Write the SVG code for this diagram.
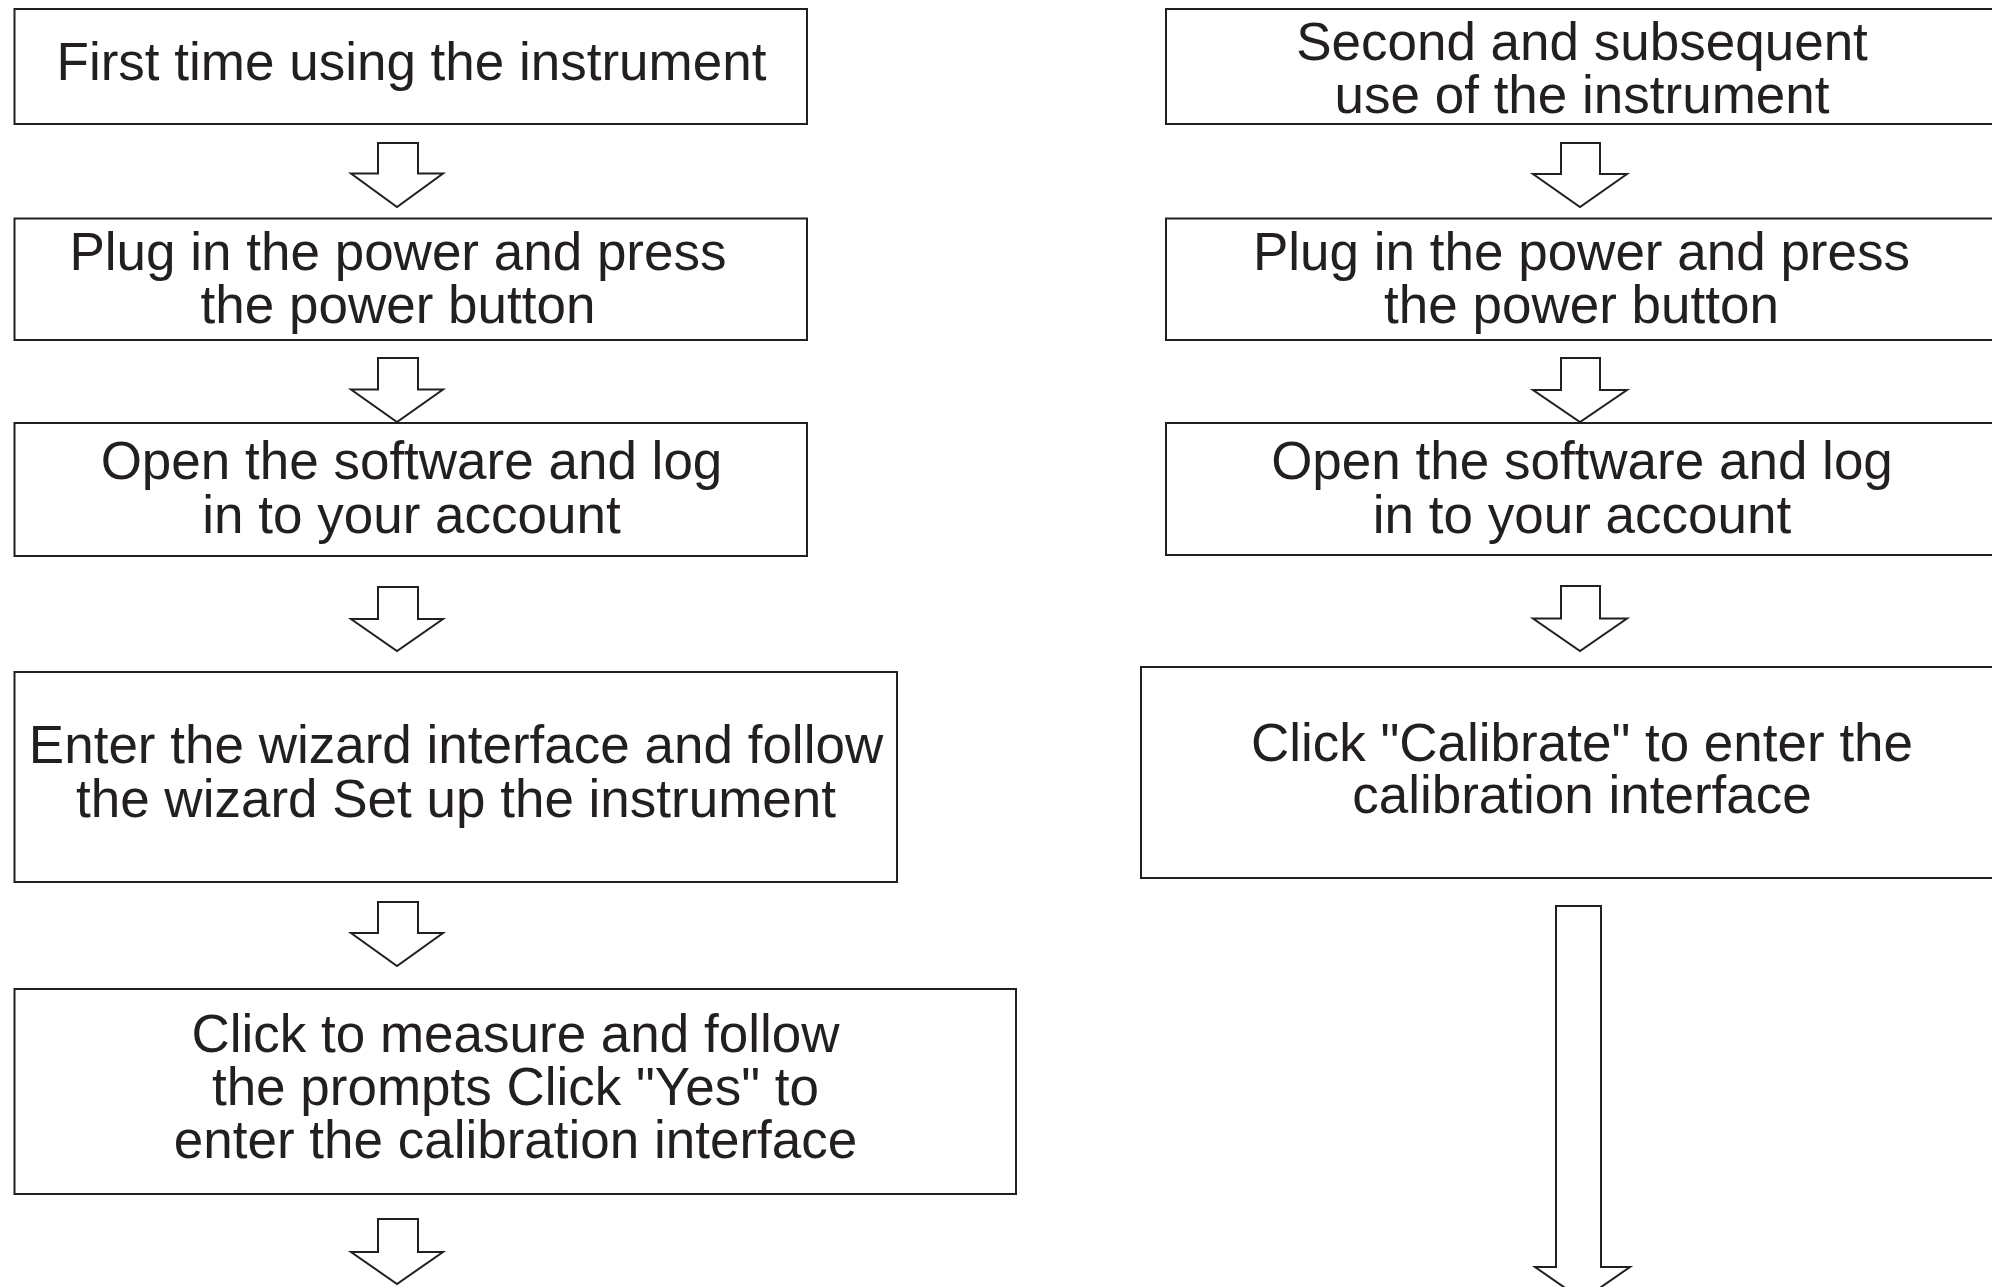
<svg xmlns="http://www.w3.org/2000/svg" width="1992" height="1287" viewBox="0 0 1992 1287">
<style>
.box{fill:#ffffff;stroke:#231f20;stroke-width:2}
.arr{fill:#ffffff;stroke:#231f20;stroke-width:2;stroke-linejoin:miter}
.t{font-family:"Liberation Sans",Arial,sans-serif;font-size:53px;fill:#231f20;text-anchor:middle}
</style>
<rect x="0" y="0" width="1992" height="1287" fill="#ffffff"/>
<g id="connectors">
<polygon class="arr" points="378,143 418,143 418,173.5 443,173.5 397,207 351,173.5 378,173.5"/>
<polygon class="arr" points="378,358 418,358 418,389.5 443,389.5 397,422 351,389.5 378,389.5"/>
<polygon class="arr" points="378,587 418,587 418,619 443,619 397,651 351,619 378,619"/>
<polygon class="arr" points="378,902 418,902 418,933 443,933 397,966 351,933 378,933"/>
<polygon class="arr" points="378,1219 418,1219 418,1252 443,1252 397,1284 351,1252 378,1252"/>
<polygon class="arr" points="1561,143 1600,143 1600,174 1627,174 1580,207 1533,174 1561,174"/>
<polygon class="arr" points="1561,358 1600,358 1600,390 1627,390 1580,422 1533,390 1561,390"/>
<polygon class="arr" points="1561,586 1600,586 1600,618.5 1627,618.5 1580,651 1533,618.5 1561,618.5"/>
<polygon class="arr" points="1556,906 1601,906 1601,1267 1630,1267 1582.5,1300 1535,1267 1556,1267"/>
</g>
<g id="n1">
<rect class="box" x="14.5" y="9" width="792.5" height="115"/>
<text class="t" x="411.5" y="80">First time using the instrument</text>
</g>
<g id="n2">
<rect class="box" x="14.5" y="218.5" width="792.5" height="121.5"/>
<text class="t" x="398" y="270">Plug in the power and press</text>
<text class="t" x="398" y="323">the power button</text>
</g>
<g id="n3">
<rect class="box" x="14.5" y="423" width="792.5" height="133"/>
<text class="t" x="411.5" y="479">Open the software and log</text>
<text class="t" x="411.5" y="533">in to your account</text>
</g>
<g id="n4">
<rect class="box" x="14.5" y="672" width="882.5" height="210"/>
<text class="t" x="456" y="763">Enter the wizard interface and follow</text>
<text class="t" x="456" y="817">the wizard Set up the instrument</text>
</g>
<g id="n5">
<rect class="box" x="14.5" y="989" width="1001.5" height="205"/>
<text class="t" x="515.5" y="1052">Click to measure and follow</text>
<text class="t" x="515.5" y="1105">the prompts Click "Yes" to</text>
<text class="t" x="515.5" y="1158">enter the calibration interface</text>
</g>
<g id="r1">
<rect class="box" x="1166" y="9" width="840" height="115"/>
<text class="t" x="1582" y="60">Second and subsequent</text>
<text class="t" x="1582" y="113">use of the instrument</text>
</g>
<g id="r2">
<rect class="box" x="1166" y="218.5" width="840" height="121.5"/>
<text class="t" x="1581.5" y="270">Plug in the power and press</text>
<text class="t" x="1581.5" y="323">the power button</text>
</g>
<g id="r3">
<rect class="box" x="1166" y="423" width="840" height="132"/>
<text class="t" x="1582" y="479">Open the software and log</text>
<text class="t" x="1582" y="533">in to your account</text>
</g>
<g id="r4">
<rect class="box" x="1141" y="667" width="865" height="211"/>
<text class="t" x="1582" y="761">Click "Calibrate" to enter the</text>
<text class="t" x="1582" y="813">calibration interface</text>
</g>
</svg>
